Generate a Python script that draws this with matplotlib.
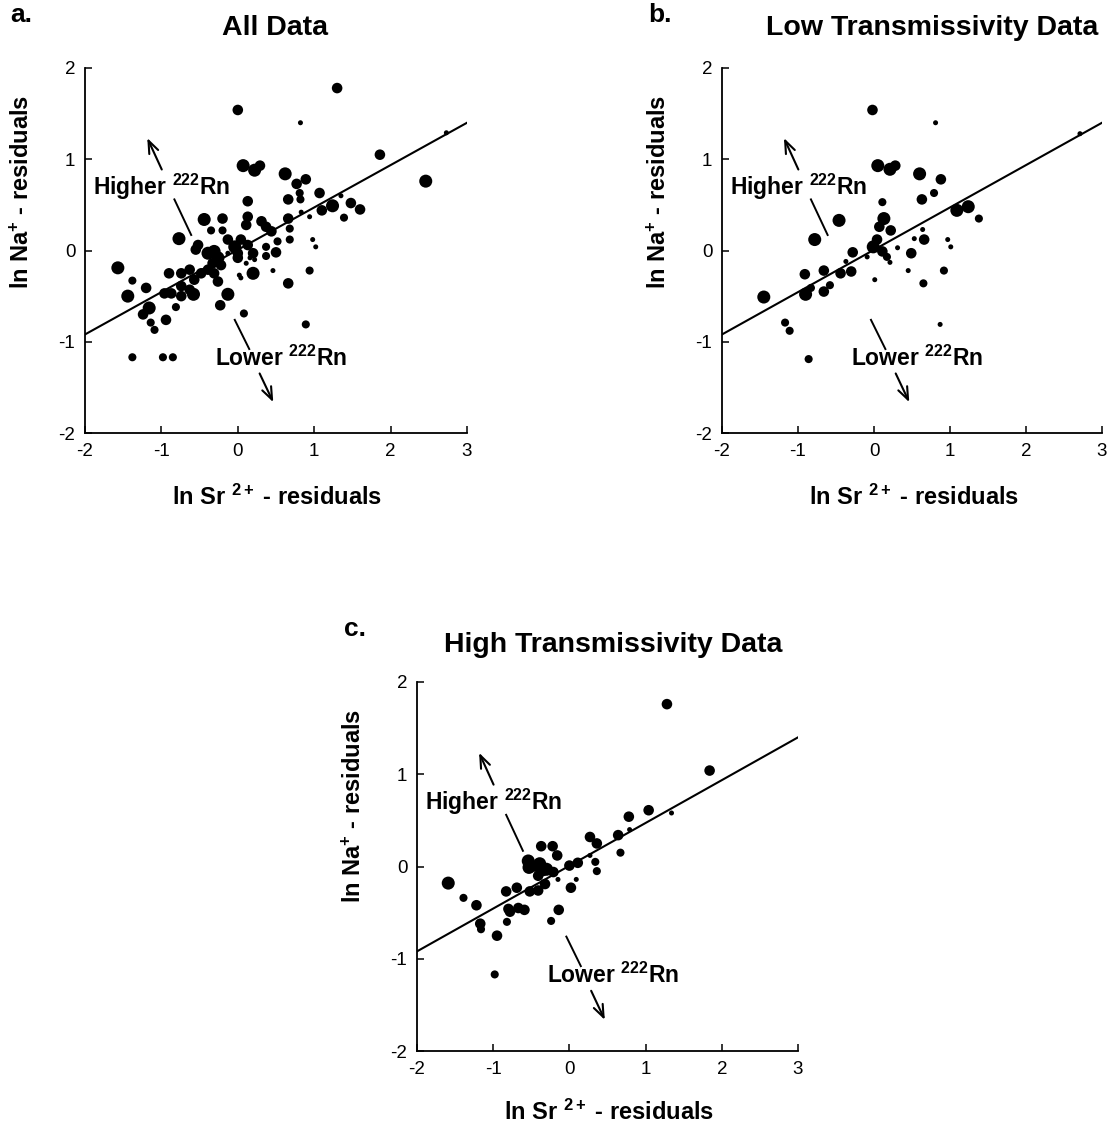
import matplotlib
matplotlib.use('Agg')
import matplotlib.pyplot as plt

plt.rcParams['font.family'] = ['Liberation Sans', 'DejaVu Sans']
plt.rcParams['mathtext.fontset'] = 'custom'
plt.rcParams['mathtext.rm'] = 'Liberation Sans'
plt.rcParams['mathtext.bf'] = 'Liberation Sans:bold'
plt.rcParams['mathtext.it'] = 'Liberation Sans:italic'
plt.rcParams['axes.unicode_minus'] = False

# point data: x, y, size class (1 tiny .. 4 large)
all_x = [1.30, 0.00, 0.82, 1.86, 2.46, 0.07, 0.22, 0.29, 0.62, 0.89, 0.77, 0.81, 0.82, 1.07,
         0.66, 0.13, 1.10, 1.24, 1.48, 1.60, 1.39, 1.35, 0.83, 0.94, 0.66, 0.13, 0.11, 0.31,
         0.37, 0.44, 0.68, 0.68, 0.98, 1.02, 0.52, 0.50, 0.37, 0.37, -0.04, 0.04, 0.00, 0.13,
         0.20, 0.22, 0.11, 0.20, 0.02, 0.04, -0.13, 0.46, 0.66, 0.94, 0.89, 0.08, -0.13, -0.23,
         -0.44, -0.20, -0.35, -0.20, -0.13, -0.77, -0.52, -0.55, -0.39, -0.31, -0.26, -0.33,
         -0.22, -0.39, -0.48, -0.26, -0.31, -0.63, -0.74, -0.90, -0.57, -0.74, -0.63, -0.58,
         -0.74, -0.87, -0.96, -0.81, -1.20, -1.38, -1.57, -1.44, -1.16, -1.24, -1.14, -1.09,
         -0.94, -1.38, -0.98, -0.85, 2.73, 0.00, 0.16]
all_y = [1.78, 1.54, 1.40, 1.05, 0.76, 0.93, 0.88, 0.93, 0.84, 0.78, 0.73, 0.63, 0.56, 0.63,
         0.56, 0.54, 0.44, 0.49, 0.52, 0.45, 0.36, 0.60, 0.42, 0.37, 0.35, 0.37, 0.28, 0.32,
         0.26, 0.21, 0.24, 0.12, 0.12, 0.04, 0.10, -0.02, 0.04, -0.06, 0.04, 0.12, -0.03, 0.06,
         -0.03, -0.10, -0.14, -0.25, -0.27, -0.30, -0.03, -0.22, -0.36, -0.22, -0.81, -0.69,
         -0.48, -0.60, 0.34, 0.35, 0.22, 0.22, 0.12, 0.13, 0.06, 0.01, -0.03, -0.01, -0.08,
         -0.14, -0.16, -0.21, -0.25, -0.34, -0.25, -0.21, -0.25, -0.25, -0.32, -0.39, -0.43,
         -0.48, -0.50, -0.47, -0.47, -0.62, -0.41, -0.33, -0.19, -0.50, -0.63, -0.70, -0.79,
         -0.87, -0.76, -1.17, -1.17, -1.17, 1.29, -0.08, -0.08]
all_size = [3, 3, 1, 3, 4, 4, 4, 3, 4, 3, 3, 2, 2, 3,
            3, 3, 3, 4, 3, 3, 2, 1, 1, 1, 3, 3, 3, 3,
            3, 3, 2, 2, 1, 1, 2, 3, 2, 2, 4, 3, 3, 3,
            3, 1, 1, 4, 1, 1, 1, 1, 3, 2, 2, 2, 4, 3,
            4, 3, 2, 2, 3, 4, 3, 3, 4, 4, 4, 3,
            3, 3, 3, 3, 3, 3, 3, 3, 3, 3, 3, 4,
            3, 3, 3, 2, 3, 2, 4, 4, 4, 3, 2, 2,
            3, 2, 2, 2, 1, 3, 1]

low_x = [-0.02, 0.81, 0.05, 0.21, 0.28, 0.60, 0.88, 0.79, 0.63, 0.11, -0.46, -0.78, 0.13, 0.07,
         0.22, 1.09, 1.24, 1.38, 0.64, 0.53, 0.66, 0.97, 1.01, 0.31, 0.49, 0.45, 0.92, 0.65,
         0.87, 0.01, -0.01, 0.04, 0.11, 0.17, 0.21, -0.28, -0.37, -0.44, -0.30, -0.66, -0.91,
         -0.83, -0.90, -0.66, -0.58, -1.45, -1.17, -1.11, -0.86, -0.09, 2.71]
low_y = [1.54, 1.40, 0.93, 0.89, 0.93, 0.84, 0.78, 0.63, 0.56, 0.53, 0.33, 0.12, 0.35, 0.26,
         0.22, 0.44, 0.48, 0.35, 0.23, 0.13, 0.12, 0.12, 0.04, 0.03, -0.03, -0.22, -0.22, -0.36,
         -0.81, -0.32, 0.04, 0.12, -0.01, -0.07, -0.13, -0.02, -0.12, -0.25, -0.23, -0.22, -0.26,
         -0.41, -0.48, -0.45, -0.38, -0.51, -0.79, -0.88, -1.19, -0.07, 1.28]
low_size = [3, 1, 4, 4, 3, 4, 3, 2, 3, 2, 4, 4, 4, 3,
            3, 4, 4, 2, 1, 1, 3, 1, 1, 1, 3, 1, 2, 2,
            1, 1, 4, 3, 3, 2, 1, 3, 1, 3, 3, 3, 3,
            2, 4, 3, 2, 4, 2, 2, 2, 1, 1]

high_x = [1.28, 1.84, 1.04, 0.78, 0.79, 1.34, 0.64, 0.67, 0.27, 0.36, 0.27, 0.34, 0.36, 0.11,
          0.00, -0.37, -0.22, -0.16, -0.54, -0.53, -0.39, -0.30, -0.41, -0.21, -0.15, 0.09,
          0.02, -0.32, -0.41, -0.52, -0.69, -0.83, -1.59, -1.39, -1.22, -0.80, -0.67, -0.59,
          -0.78, -1.17, -1.16, -0.82, -0.95, -0.14, -0.24, -0.98, -0.45, -0.35]
high_y = [1.76, 1.04, 0.61, 0.54, 0.40, 0.58, 0.34, 0.15, 0.32, 0.25, 0.12, 0.05, -0.05, 0.04,
          0.01, 0.22, 0.22, 0.12, 0.06, -0.01, 0.03, -0.03, -0.10, -0.06, -0.14, -0.14,
          -0.23, -0.19, -0.26, -0.27, -0.23, -0.27, -0.18, -0.34, -0.42, -0.46, -0.45, -0.47,
          -0.49, -0.62, -0.68, -0.60, -0.75, -0.47, -0.59, -1.17, 0.00, -0.05]
high_size = [3, 3, 3, 3, 1, 1, 3, 2, 3, 3, 1, 2, 2, 3,
             3, 3, 3, 3, 4, 4, 4, 4, 3, 3, 1, 1,
             3, 3, 3, 3, 3, 3, 4, 2, 3, 3, 3, 3,
             3, 3, 2, 2, 3, 3, 2, 2, 3, 3]

# regression line shown in every panel
fit_slope = 0.464
fit_intercept = 0.008
fit_range = [-2, 3]

panel_letters = ['a.', 'b.', 'c.']
panel_titles = ['All Data', 'Low Transmissivity Data', 'High Transmissivity Data']

W, H = 1115, 1127
marker_area = {1: 13, 2: 34, 3: 58, 4: 88}


def rect(x0, y0, x1, y1):
    return [x0 / W, 1 - y1 / H, (x1 - x0) / W, (y1 - y0) / H]


def draw_panel(fig, box, xs, ys, sizes, letter, title, letter_xy, title_xy, ylab_xy, xlab_xy):
    ax = fig.add_axes(rect(*box))
    ax.scatter(xs, ys, s=[marker_area[k] for k in sizes], c='black', linewidths=0, zorder=3)
    lx = fit_range
    ax.plot(lx, [fit_slope * v + fit_intercept for v in lx], color='black', lw=1.5, zorder=2)

    ax.set_xlim(-2, 3)
    ax.set_ylim(-2, 2)
    ax.set_xticks([-2, -1, 0, 1, 2, 3])
    ax.set_yticks([-2, -1, 0, 1, 2])
    ax.spines['top'].set_visible(False)
    ax.spines['right'].set_visible(False)
    for s in ['left', 'bottom']:
        ax.spines[s].set_linewidth(1.3)
    ax.tick_params(direction='in', length=5, width=1.1, labelsize=13.5, pad=7)

    # annotations
    ax.text(-1.90, 0.70, r'Higher $^{\mathbf{222}}$Rn', fontsize=16.5, fontweight='bold',
            va='center', ha='left')
    ax.text(-0.30, -1.18, r'Lower $^{\mathbf{222}}$Rn', fontsize=16.5, fontweight='bold',
            va='center', ha='left')
    ax.plot([-0.83, -0.61], [0.56, 0.17], color='black', lw=1.4)
    ax.plot([-0.04, 0.15], [-0.76, -1.08], color='black', lw=1.4)
    ax.annotate('', xy=(-1.20, 1.26), xytext=(-0.98, 0.86),
                arrowprops=dict(arrowstyle='->,head_length=0.9,head_width=0.35', lw=1.5, color='black'))
    ax.annotate('', xy=(0.48, -1.69), xytext=(0.27, -1.32),
                arrowprops=dict(arrowstyle='->,head_length=0.9,head_width=0.35', lw=1.5, color='black'))

    fig.text(letter_xy[0] / W, 1 - letter_xy[1] / H, letter, fontsize=19, fontweight='bold',
             ha='left', va='baseline')
    fig.text(title_xy[0] / W, 1 - title_xy[1] / H, title, fontsize=20.5, fontweight='bold',
             ha='center', va='center')
    fig.text(ylab_xy[0] / W, 1 - ylab_xy[1] / H, r'ln Na$^{\mathbf{+}}$ - residuals', fontsize=17,
             fontweight='bold', rotation=90, ha='center', va='center')
    fig.text(xlab_xy[0] / W, 1 - xlab_xy[1] / H, r'ln Sr $^{\mathbf{2+}}$ - residuals', fontsize=17,
             fontweight='bold', ha='center', va='center')
    return ax


def main():
    fig = plt.figure(figsize=(W / 100, H / 100), dpi=100)
    draw_panel(fig, (85, 68, 467, 433), all_x, all_y, all_size, panel_letters[0], panel_titles[0],
               (10, 22), (275, 28), (22, 192), (277, 497))
    draw_panel(fig, (722, 68, 1102, 433), low_x, low_y, low_size, panel_letters[1], panel_titles[1],
               (648, 22), (932, 28), (659, 192), (914, 497))
    draw_panel(fig, (417, 682, 798, 1051), high_x, high_y, high_size, panel_letters[2], panel_titles[2],
               (344, 636), (613, 645), (354, 806), (609, 1112))
    fig.savefig('out.png', dpi=100)


if __name__ == '__main__':
    main()
